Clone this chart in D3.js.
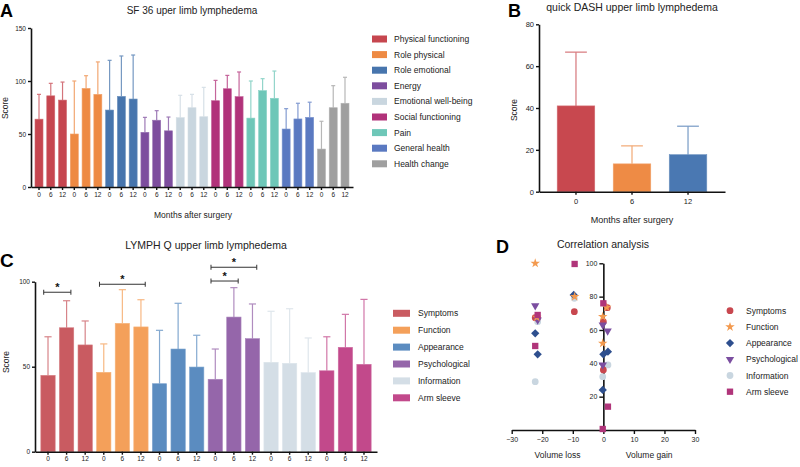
<!DOCTYPE html>
<html>
<head>
<meta charset="utf-8">
<script src="https://cdn.jsdelivr.net/npm/d3@7"></script>
<style>
  html, body { margin: 0; padding: 0; background: #fff; }
  svg { display: block; font-family: "Liberation Sans", Arial, Helvetica, sans-serif; }
</style>
</head>
<body>
<svg id="chart" width="800" height="467"></svg>
<script>
// ---------------- DATA ----------------
const months = ["0", "6", "12"];

// Panel A: SF 36
const sf36Domains = ["Physical functioning", "Role physical", "Role emotional", "Energy",
  "Emotional well-being", "Social functioning", "Pain", "General health", "Health change"];
const sf36Mean = [
  [64, 86, 82], [50, 93, 87.4], [72.6, 85.5, 83], [51.6, 63, 53],
  [65.4, 74.8, 66.3], [81.4, 92.7, 85.2], [65, 90.9, 83.7], [54.7, 64.2, 65.7], [35.8, 74.8, 79]
];
const sf36SD = [
  [23.4, 11.8, 17], [50, 12, 30.6], [46.9, 38.1, 41.5], [14.1, 9, 13],
  [21.1, 12.6, 27.7], [19.2, 12.6, 23.3], [35, 11.3, 25.7], [19.2, 14.8, 14.3], [26.2, 20.8, 24.5]
];
const sf36Ticks = [0, 50, 100, 150];

// Panel B: quick DASH
const dashMean = [41, 13.3, 17.7];
const dashSD = [25.7, 8.6, 13.6];
const dashTicks = [0, 20, 40, 60, 80];

// Panel C: LYMPH Q
const lymphDomains = ["Symptoms", "Function", "Appearance", "Psychological", "Information", "Arm sleeve"];
const lymphMean = [
  [44.9, 72.9, 62.8], [46.7, 75.5, 73.4], [40, 60.4, 49.8],
  [42.6, 79.2, 66.5], [52.6, 52, 46.5], [47.6, 61.4, 51.4]
];
const lymphSD = [
  [22.7, 15.9, 14.1], [16.7, 19.8, 16], [31.4, 26.9, 18.7],
  [17.8, 17.3, 20.4], [30, 32.1, 20.4], [20, 19.4, 38.2]
];
const lymphTicks = [0, 50, 100];
// significance brackets: domain, from month, to month, bracket height (score units)
const lymphSig = [
  ["Symptoms", "0", "6", 93.8],
  ["Function", "0", "12", 98.5],
  ["Psychological", "0", "12", 108.5],
  ["Psychological", "0", "6", 100.4]
];

// Panel D: Correlation analysis (volume change, score)
const corrSymptoms = [[-9.5, 71], [-22.3, 67.4], [-21.6, 67], [1.3, 73.4], [0, 65], [0, 36]];
const corrFunction = [[-22.3, 100], [-9.4, 80], [-21.8, 67.6], [1.1, 73.6], [-0.2, 68], [-0.2, 52]];
const corrAppearance = [[-9.7, 81], [-22.3, 58], [-21.5, 45.4], [0, 45.4], [1.5, 47], [-0.2, 24]];
const corrPsychological = [[-22.3, 74.6], [-21.5, 66], [-0.2, 63], [1.4, 59.4], [-0.2, 39]];
const corrInformation = [[-9.5, 79], [-21.5, 65], [-22.3, 29], [1.5, 39], [-0.2, 32]];
const corrArmSleeve = [[-9.4, 99.6], [-21.5, 69], [-22.3, 50.4], [0, 76], [1.5, 14], [-0.2, 0.6]];
const corrXTicks = [-30, -20, -10, 0, 10, 20, 30];
const corrYTicks = [20, 40, 60, 80, 100];

// ---------------- STYLES ----------------
const sf36Colors = ["#c6464f", "#ee8a43", "#4775ad", "#7d4d9e", "#c9d6df", "#b1327a", "#6ec7b8", "#5a79c1", "#9f9f9f"];
const dashColors = ["#c8484f", "#ee8b45", "#4a78b2"];
const lymphColors = ["#c95b61", "#f4a05a", "#5b8cc0", "#9566aa", "#d4dee6", "#c2498b"];
const corrColors = ["#c8474f", "#f39a4f", "#2e4f8e", "#7b4ea0", "#c9d6e0", "#b0357a"];

const svg = d3.select("#chart");
const lighten = (c, t) => d3.interpolateRgb(c, "#ffffff")(t);

function styleAxis(g, fs) {
  g.selectAll("path.domain").attr("stroke", "#111").attr("stroke-width", 1.6);
  g.selectAll(".tick line").attr("stroke", "#111").attr("stroke-width", 1.4);
  g.selectAll(".tick text").attr("fill", "#222").style("font-size", fs + "px")
    .style("font-family", '"Liberation Sans", Arial, sans-serif');
}

function letter(txt, x, y, fs) {
  svg.append("text").attr("x", x).attr("y", y).text(txt)
    .style("font-size", fs + "px").style("font-weight", "bold").attr("fill", "#000");
}
function label(txt, x, y, fs, anchor = "middle", rot = false) {
  const t = svg.append("text").text(txt).attr("fill", "#222")
    .style("font-size", fs + "px").attr("text-anchor", anchor);
  if (rot) t.attr("transform", `translate(${x},${y}) rotate(-90)`);
  else t.attr("x", x).attr("y", y);
  return t;
}

// generic grouped bar panel
function barPanel(opts) {
  const { groups, means, sds, colors, xRange, pi, po, yDomain, yRange, yTicks, tickFs } = opts;
  const keys = [];
  groups.forEach((g, gi) => months.forEach((m, mi) => keys.push({ key: gi + "-" + m, gi, mi, m })));
  const x = d3.scaleBand().domain(keys.map(d => d.key)).range(xRange).paddingInner(pi).paddingOuter(po);
  const y = d3.scaleLinear().domain(yDomain).range(yRange);
  const g = svg.append("g");
  const bw = x.bandwidth();
  keys.forEach(k => {
    const v = means[k.gi][k.mi], e = sds[k.gi][k.mi];
    const c = colors[k.gi];
    const cx = x(k.key) + bw / 2;
    g.append("line").attr("x1", cx).attr("x2", cx).attr("y1", y(v)).attr("y2", y(v + e))
      .attr("stroke", lighten(c, 0.25)).attr("stroke-width", 1.2);
    g.append("line").attr("x1", cx - bw * 0.25).attr("x2", cx + bw * 0.25).attr("y1", y(v + e)).attr("y2", y(v + e))
      .attr("stroke", lighten(c, 0.25)).attr("stroke-width", 1.2);
    g.append("rect").attr("x", x(k.key)).attr("width", bw).attr("y", y(v)).attr("height", y(0) - y(v))
      .attr("fill", c).attr("stroke", lighten(c, 0.2)).attr("stroke-width", 0.6);
  });
  const ax = svg.append("g").attr("transform", `translate(0,${yRange[0]})`)
    .call(d3.axisBottom(x).tickSize(3).tickSizeOuter(0).tickPadding(2)
      .tickFormat(k => k.split("-")[1]));
  styleAxis(ax, tickFs);
  const ay = svg.append("g").attr("transform", `translate(${xRange[0]},0)`)
    .call(d3.axisLeft(y).tickValues(yTicks).tickSize(3).tickSizeOuter(0).tickPadding(2));
  styleAxis(ay, tickFs);
  return { x, y };
}

// ---------------- PANEL A ----------------
letter("A", 0, 17, 18);
label("SF 36 uper limb lymphedema", 192, 14, 10);
barPanel({ groups: sf36Domains, means: sf36Mean, sds: sf36SD, colors: sf36Colors,
  xRange: [31, 353], pi: 0.32, po: 0.34, yDomain: [0, 150], yRange: [187, 28], yTicks: sf36Ticks, tickFs: 6.5 });
label("Score", 8, 108, 8.5, "middle", true);
label("Months after surgery", 193, 218, 8.5);
sf36Domains.forEach((d, i) => {
  const yy = 39 + i * 15.6;
  svg.append("rect").attr("x", 372).attr("y", yy - 3.5).attr("width", 15).attr("height", 7).attr("fill", sf36Colors[i]);
  label(d, 394, yy + 3, 8.5, "start");
});

// ---------------- PANEL B ----------------
letter("B", 508, 17, 18);
label("quick DASH upper limb lymphedema", 632, 11, 10.5);
{
  const x = d3.scaleBand().domain(months).range([539, 725]).paddingInner(0.33).paddingOuter(0.325);
  const y = d3.scaleLinear().domain([0, 80]).range([191.7, 24.3]);
  const bw = x.bandwidth();
  months.forEach((m, i) => {
    const v = dashMean[i], e = dashSD[i], c = dashColors[i];
    const cx = x(m) + bw / 2;
    svg.append("line").attr("x1", cx).attr("x2", cx).attr("y1", y(v)).attr("y2", y(v + e))
      .attr("stroke", lighten(c, 0.25)).attr("stroke-width", 1.2);
    svg.append("line").attr("x1", cx - bw * 0.29).attr("x2", cx + bw * 0.29).attr("y1", y(v + e)).attr("y2", y(v + e))
      .attr("stroke", lighten(c, 0.25)).attr("stroke-width", 1.2);
    svg.append("rect").attr("x", x(m)).attr("width", bw).attr("y", y(v)).attr("height", y(0) - y(v))
      .attr("fill", c).attr("stroke", lighten(c, 0.2)).attr("stroke-width", 0.6);
  });
  const ax = svg.append("g").attr("transform", "translate(0,191.7)")
    .call(d3.axisBottom(x).tickSize(3).tickSizeOuter(0).tickPadding(4));
  styleAxis(ax, 7.5);
  const ay = svg.append("g").attr("transform", "translate(539,0)")
    .call(d3.axisLeft(y).tickValues(dashTicks).tickSize(3).tickSizeOuter(0).tickPadding(2));
  styleAxis(ay, 7.5);
  label("Score", 517, 110, 8.5, "middle", true);
  label("Months after surgery", 632, 223, 9);
}

// ---------------- PANEL C ----------------
letter("C", 0, 267, 19);
label("LYMPH Q upper limb lymphedema", 206, 249, 10.5);
{
  const { x, y } = barPanel({ groups: lymphDomains, means: lymphMean, sds: lymphSD, colors: lymphColors,
    xRange: [35, 377], pi: 0.23, po: 0.315, yDomain: [0, 100], yRange: [451.7, 281.7], yTicks: lymphTicks, tickFs: 6.5 });
  const bw = x.bandwidth();
  lymphSig.forEach(([dom, a, b, h]) => {
    const gi = lymphDomains.indexOf(dom);
    const x1 = x(gi + "-" + a) + bw * 0.2, x2 = x(gi + "-" + b) + bw * 0.8;
    const yy = y(h);
    svg.append("line").attr("x1", x1).attr("x2", x2).attr("y1", yy).attr("y2", yy).attr("stroke", "#333").attr("stroke-width", 1);
    [x1, x2].forEach(xx => svg.append("line").attr("x1", xx).attr("x2", xx).attr("y1", yy - 2.5).attr("y2", yy + 2.5)
      .attr("stroke", "#333").attr("stroke-width", 1));
    svg.append("text").attr("x", (x1 + x2) / 2).attr("y", yy - 1).attr("text-anchor", "middle")
      .style("font-size", "11px").style("font-weight", "bold").attr("fill", "#111").text("*");
  });
  label("Score", 9, 362, 8.5, "middle", true);
  lymphDomains.forEach((d, i) => {
    const yy = 313.3 + i * 16.9;
    svg.append("rect").attr("x", 393).attr("y", yy - 3.5).attr("width", 17).attr("height", 7).attr("fill", lymphColors[i]);
    label(d, 418, yy + 3, 8.5, "start");
  });
}

// ---------------- PANEL D ----------------
letter("D", 496, 253, 18);
label("Correlation analysis", 603, 248, 10.5);
{
  const x = d3.scaleLinear().domain([-30, 30]).range([511.7, 695]);
  const y = d3.scaleLinear().domain([0, 100]).range([430, 263.3]);
  const series = [
    { name: "Symptoms", pts: corrSymptoms, sym: d3.symbolCircle, size: 36, rot: 0 },
    { name: "Function", pts: corrFunction, sym: d3.symbolStar, size: 28, rot: 0 },
    { name: "Appearance", pts: corrAppearance, sym: d3.symbolSquare, size: 34, rot: 45 },
    { name: "Psychological", pts: corrPsychological, sym: d3.symbolTriangle, size: 30, rot: 180 },
    { name: "Information", pts: corrInformation, sym: d3.symbolCircle, size: 36, rot: 0 },
    { name: "Arm sleeve", pts: corrArmSleeve, sym: d3.symbolSquare, size: 40, rot: 0 }
  ];
  const ax = svg.append("g").attr("transform", `translate(0,${y(0)})`)
    .call(d3.axisBottom(x).tickValues(corrXTicks).tickSize(4).tickSizeOuter(0).tickPadding(3).tickFormat(d3.format("d")));
  styleAxis(ax, 7);
  const ay = svg.append("g").attr("transform", `translate(${x(0)},0)`)
    .call(d3.axisLeft(y).tickValues(corrYTicks).tickSize(4).tickSizeOuter(0).tickPadding(2));
  styleAxis(ay, 7);
  const drawOrder = [4, 0, 3, 2, 1, 5];
  drawOrder.forEach(si => {
    const s = series[si];
    s.pts.forEach(p => {
      svg.append("path").attr("d", d3.symbol(s.sym, s.size)())
        .attr("transform", `translate(${x(p[0])},${y(p[1])}) rotate(${s.rot})`)
        .attr("fill", corrColors[si]);
    });
  });
  series.forEach((s, i) => {
    const yy = 310.7 + i * 16.2;
    svg.append("path").attr("d", d3.symbol(s.sym, s.size)())
      .attr("transform", `translate(730,${yy}) rotate(${s.rot})`).attr("fill", corrColors[i]);
    label(s.name, 746, yy + 3, 8.5, "start");
  });
  label("Volume loss", x(-15), 458, 8.5);
  label("Volume gain", x(15), 458, 8.5);
}
</script>
</body>
</html>
